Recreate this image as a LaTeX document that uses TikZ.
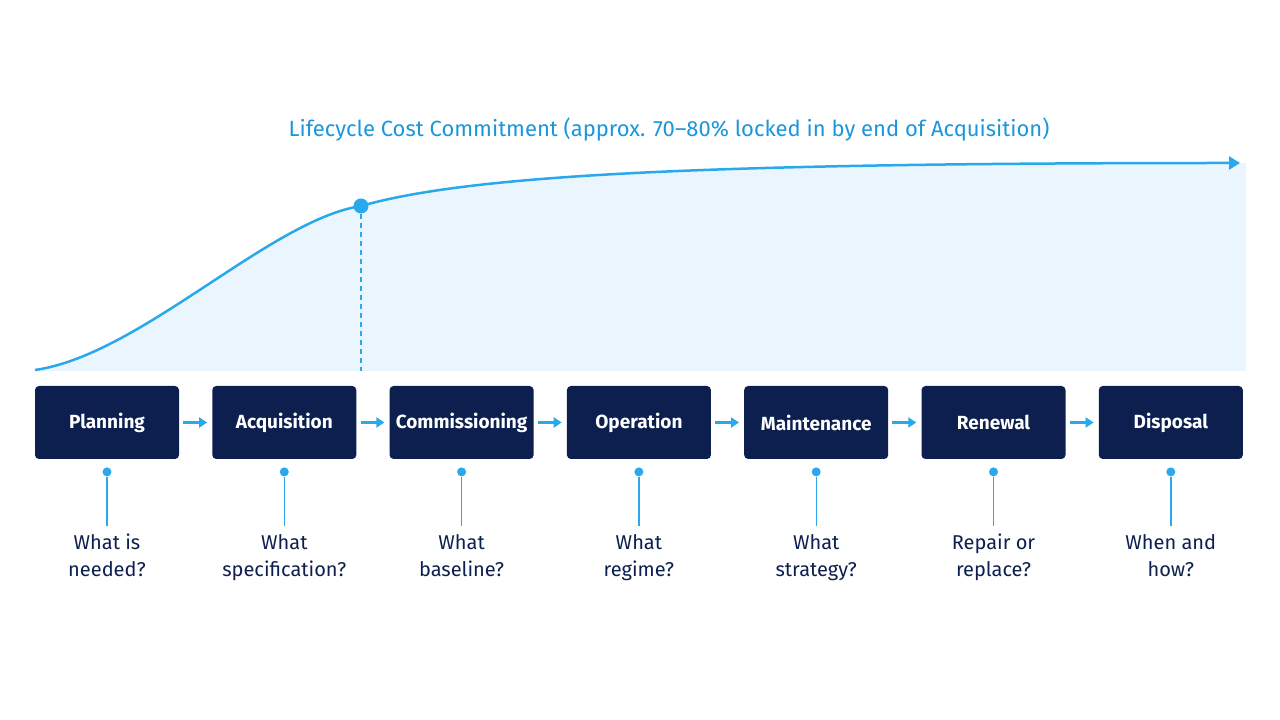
\documentclass[tikz,border=0pt]{standalone}
\usepackage{fontspec}
\setmainfont{Fira Sans}
\usetikzlibrary{arrows.meta,positioning}
\definecolor{navyc}{HTML}{0C1F4F}
\definecolor{skyc}{HTML}{29A8EC}
\definecolor{softbg}{HTML}{EAF5FE}
\definecolor{titlec}{HTML}{1A96DC}
\tikzset{
  ar/.style={-{Triangle[length=8pt,width=10pt]},line width=2.2pt,skyc,shorten <=4pt,shorten >=5pt},
  phase/.style={rectangle,rounded corners=4pt,fill=navyc,text=white,minimum width=144pt,minimum height=73pt,font=\fontsize{19}{22}\selectfont\bfseries},
  ask/.style={align=center,text=navyc,inner sep=2pt,font=\fontsize{20}{27}\selectfont},
  pin/.style={circle,fill=skyc,inner sep=0pt,minimum size=9pt}
}
\begin{document}
\begin{tikzpicture}[x=1pt,y=1pt]
\useasboundingbox (0,0) rectangle (1280,720);
\coordinate (base) at (35,349);
\coordinate (start) at (35,350);
\coordinate (knee) at (361,514);
\coordinate (tip) at (1240,557);
% area under the commitment curve
\fill[softbg] (start) .. controls (140,365) and (270,500) .. (knee)
  .. controls (470,545) and (700,557) .. (tip) -- (1246,557) -- (1246,349) -- (base) -- cycle;
\draw[skyc,line width=2.5pt,-{Triangle[length=11pt,width=13pt]}] (start) .. controls (140,365) and (270,500) .. (knee)
  .. controls (470,545) and (700,557) .. (tip);
\node[circle,fill=skyc,inner sep=0pt,minimum size=15pt] (peak) at (knee) {};
\draw[skyc,line width=1.2pt,dash pattern=on 5pt off 4pt] (peak) -- (peak |- base);
\node[text=titlec,font=\fontsize{22}{26}\selectfont] (title) at (669,590) {Lifecycle Cost Commitment (approx. 70--80\% locked in by end of Acquisition)};
% phases
\foreach \n/\t/\q [count=\i] in {plan/Planning/{What is\\needed?},acq/Acquisition/{What\\specification?},com/Commissioning/{What\\baseline?},ope/Operation/{What\\regime?},mai/Maintenance/{What\\strategy?},ren/Renewal/{Repair or\\replace?},dis/Disposal/{When and\\how?}}{
  \node[phase] (\n) at ({107+177.3*(\i-1)},297.5) {\t};
  \node[pin,below=8pt of \n] (\n-pin) {};
  \node[ask,below=60pt of \n-pin.center,anchor=north] (\n-ask) {\q};
  \draw[skyc,line width=1.4pt,shorten >=6pt] (\n-pin) -- (\n-ask);
}
\foreach \a/\b in {plan/acq,acq/com,com/ope,ope/mai,mai/ren,ren/dis}
  \draw[ar] (\a) -- (\b);
\end{tikzpicture}
\end{document}
